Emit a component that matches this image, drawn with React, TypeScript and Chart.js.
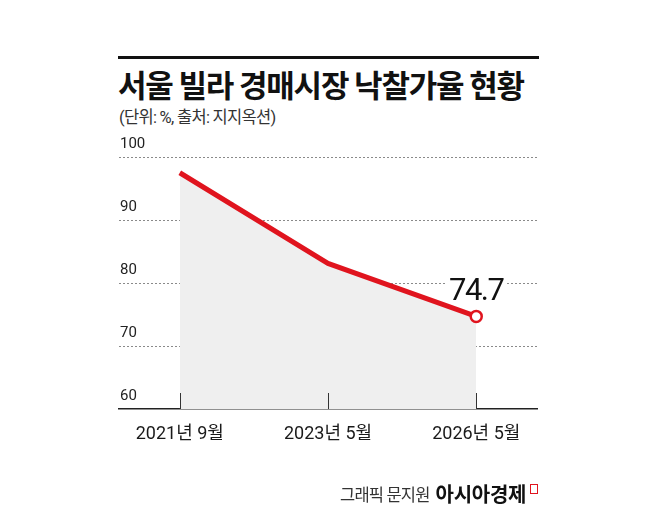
import { useRef, useEffect } from 'react'
import { Chart, registerables } from 'chart.js'

Chart.register(...registerables)

const periods = ['2021년 9월', '2023년 5월', '2026년 5월']
const rates = [97.5, 83.1, 74.7]
const yTicks = [60, 70, 80, 90, 100]

const RED = '#e0141e'
const KR = "Roboto, 'Noto Sans CJK KR', sans-serif"

// small upward tick marks at each category, and the value label for the last point
const markerPlugin = {
  id: 'markers',
  afterDatasetsDraw(chart: Chart) {
    const { ctx, chartArea } = chart
    const x = chart.scales.x
    const y = chart.scales.y
    ctx.save()
    ctx.strokeStyle = '#333'
    ctx.lineWidth = 1
    periods.forEach((_, i) => {
      const px = Math.round(x.getPixelForValue(i)) + 0.5
      ctx.beginPath()
      ctx.moveTo(px, chartArea.bottom - 16)
      ctx.lineTo(px, chartArea.bottom)
      ctx.stroke()
    })
    const last = rates.length - 1
    const lx = x.getPixelForValue(last)
    const ly = y.getPixelForValue(rates[last])
    ctx.font = `31px ${KR}`
    ;(ctx as any).letterSpacing = '-1.5px'
    ctx.textAlign = 'center'
    ctx.textBaseline = 'alphabetic'
    const text = rates[last].toFixed(1)
    const w = ctx.measureText(text).width
    ctx.fillStyle = '#fff'
    ctx.fillRect(lx - w / 2 - 2, ly - 38, w + 4, 14)
    ctx.fillStyle = '#111'
    ctx.fillText(text, lx, ly - 16)
    ctx.restore()
  },
}

function LineChart() {
  const canvasRef = useRef<HTMLCanvasElement>(null)
  const chartRef = useRef<Chart | null>(null)

  useEffect(() => {
    if (!canvasRef.current) return
    const ctx = canvasRef.current.getContext('2d')
    if (!ctx) return

    chartRef.current = new Chart(ctx, {
      type: 'line',
      data: {
        datasets: [{
          data: rates.map((v, i) => ({ x: i, y: v })),
          borderColor: RED,
          borderWidth: 5,
          backgroundColor: '#efefef',
          fill: 'start',
          tension: 0,
          pointRadius: rates.map((_, i) => (i === rates.length - 1 ? 5.5 : 0)),
          pointBackgroundColor: '#fff',
          pointBorderColor: RED,
          pointBorderWidth: 2.5,
        }],
      },
      plugins: [markerPlugin],
      options: {
        animation: false,
        responsive: false,
        events: [],
        layout: { padding: { left: 119, right: 121, top: 157, bottom: 77 } },
        plugins: { legend: { display: false }, tooltip: { enabled: false } },
        scales: {
          x: {
            type: 'linear',
            min: -0.41,
            max: 2.41,
            afterBuildTicks: (s: any) => { s.ticks = periods.map((_, i) => ({ value: i })) },
            afterFit: (s: any) => { s.height = 40 },
            grid: { display: false },
            border: { color: '#222', width: 1.5 },
            ticks: {
              callback: (v: any) => periods[v] ?? '',
              color: '#1a1a1a',
              font: { family: KR, size: 18 },
              padding: 7,
              maxRotation: 0,
              autoSkip: false,
            },
          },
          y: {
            min: 60,
            max: 100,
            afterBuildTicks: (s: any) => { s.ticks = yTicks.map((v) => ({ value: v })) },
            afterFit: (s: any) => { s.width = 0 },
            grid: {
              color: (c: any) => (c.tick && c.tick.value === 60 ? 'rgba(0,0,0,0)' : '#8a8a8a'),
              lineWidth: 1,
              drawTicks: false,
            },
            border: { display: false, dash: [2, 2] },
            ticks: {
              mirror: true,
              padding: 1,
              labelOffset: -13,
              color: '#222',
              font: { family: KR, size: 15 },
            },
          },
        },
      },
    })

    return () => { chartRef.current?.destroy() }
  }, [])

  return <canvas ref={canvasRef} width={658} height={526} style={{ position: 'absolute', left: 0, top: 0 }} />
}

export default function App() {
  return (
    <div style={{ position: 'absolute', left: 0, top: 0, width: 658, height: 526, background: '#fff', fontFamily: KR, color: '#111' }}>
      <div style={{ position: 'absolute', left: 118, top: 56, width: 421, height: 3, background: '#111' }} />
      <div style={{ position: 'absolute', left: 118, top: 61, fontSize: 31, fontWeight: 700, letterSpacing: -1.2, whiteSpace: 'nowrap', fontFamily: "'Noto Sans CJK KR', sans-serif" }}>
        서울 빌라 경매시장 낙찰가율 현황
      </div>
      <div style={{ position: 'absolute', left: 119, top: 104, fontSize: 16.5, letterSpacing: -0.7, color: '#333', whiteSpace: 'nowrap' }}>
        (단위: %, 출처: 지지옥션)
      </div>
      <LineChart />
      <div style={{ position: 'absolute', left: 340, top: 479, whiteSpace: 'nowrap', display: 'flex', alignItems: 'center' }}>
        <span style={{ fontSize: 16.5, letterSpacing: -0.8, color: '#333', marginRight: 6 }}>그래픽 문지원</span>
        <span style={{ fontSize: 20, fontWeight: 700, letterSpacing: -0.3, fontFamily: "'Noto Sans CJK KR', sans-serif" }}>아시아경제</span>
        <span style={{ display: 'inline-block', width: 6, height: 8, border: `1.5px solid ${RED}`, marginLeft: 4, marginTop: -10 }} />
      </div>
    </div>
  )
}
